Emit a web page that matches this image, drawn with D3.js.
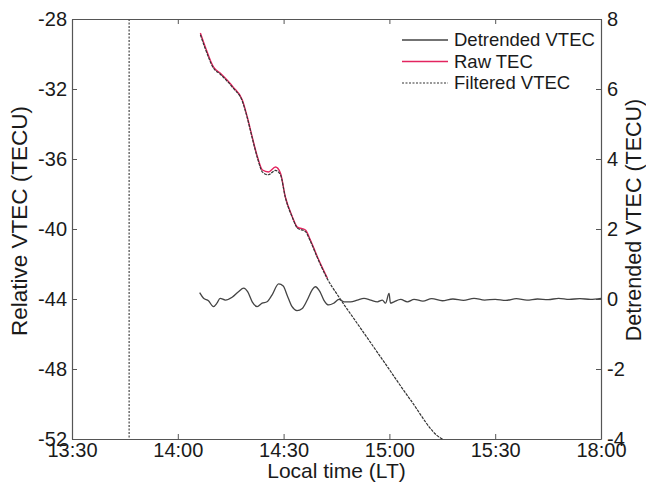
<!DOCTYPE html>
<html>
<head>
<meta charset="utf-8">
<script src="https://cdn.jsdelivr.net/npm/d3@7"></script>
<style>
  body { margin: 0; background: #fff; }
  text { font-family: "Liberation Sans", Arial, sans-serif; fill: #1a1a1a; }
</style>
</head>
<body>
<div id="chart"></div>
<script>
// time is minutes after 13:30
var xTicks = [0, 30, 60, 90, 120, 150];
var xTickLabels = ["13:30", "14:00", "14:30", "15:00", "15:30", "18:00"];
var leftTicks = [-28, -32, -36, -40, -44, -48, -52];
var rightTicks = [8, 6, 4, 2, 0, -2, -4];
var markerTime = 16.2;

// Raw TEC (left axis)
var rawT = [36.4, 37.8, 40.1, 42.0, 45.7, 48.3, 49.7, 51.1, 52.6, 54.0, 55.7, 57.7, 59.1, 60.5, 62.5, 63.9, 66.2, 67.6, 69.6, 72.4];
var rawV = [-28.8, -29.6, -30.74, -31.09, -31.89, -32.63, -33.6, -34.74, -35.89, -36.63, -36.74, -36.46, -36.8, -38.17, -39.31, -39.89, -40.06, -40.63, -41.6, -42.8];

// Filtered VTEC (left axis)
var filtT = [36.4, 37.8, 40.1, 42.0, 45.7, 48.3, 49.7, 51.1, 52.6, 54.0, 55.7, 57.7, 59.1, 60.5, 62.5, 63.9, 66.2, 67.6, 69.6, 72.4, 75.3, 81.8, 89.5, 96.0, 104.5, 105.1];
var filtV = [-28.9, -29.7, -30.8, -31.15, -31.95, -32.7, -33.65, -34.8, -35.95, -36.75, -36.9, -36.65, -36.9, -38.2, -39.35, -39.95, -40.15, -40.7, -41.65, -42.85, -43.77, -45.66, -47.89, -49.77, -51.94, -52.0];

// Detrended VTEC (right axis)
var detT = [36.2, 37.3, 38.7, 40.1, 41.1, 42.0, 43.5, 45.4, 47.2, 48.7, 49.8, 51.1, 52.5, 53.9, 55.3, 56.7, 58.6, 59.9, 61.0, 62.4, 63.8, 65.3, 66.7, 68.1, 69.0, 70.3, 71.4, 72.8, 74.2, 75.7, 77.1, 79.0, 80.9, 82.8, 84.7, 86.6, 88.0, 88.9, 89.9, 90.3, 91.3, 93.2, 95.1, 97.0, 99.5, 102, 105, 108, 111, 114, 117, 120, 123, 126, 129, 132, 135, 138, 141, 144, 147, 150];
var detV = [0.18, 0.02, -0.05, -0.22, -0.12, 0.02, -0.03, 0.05, 0.21, 0.31, 0.21, -0.08, -0.22, -0.12, -0.08, 0.11, 0.43, 0.37, 0.11, -0.22, -0.33, -0.27, -0.03, 0.26, 0.35, 0.21, -0.03, -0.17, -0.12, -0.01, -0.08, -0.08, -0.03, 0.02, -0.03, -0.08, -0.03, -0.12, 0.16, -0.12, -0.08, -0.01, -0.08, -0.01, -0.06, 0.01, -0.05, 0.0, -0.04, 0.02, -0.03, -0.01, -0.04, 0.01, -0.03, 0.0, -0.02, 0.02, -0.01, 0.01, -0.01, 0.02];

var svgWidth = 646;
var svgHeight = 491;
var margin = { top: 19, right: 45, bottom: 52, left: 72 };
var chartWidth = svgWidth - margin.left - margin.right;
var chartHeight = svgHeight - margin.top - margin.bottom;

var svg = d3.select("#chart")
  .append("svg")
  .attr("width", svgWidth)
  .attr("height", svgHeight);

var chartGroup = svg.append("g")
  .attr("transform", `translate(${margin.left}, ${margin.top})`);

var xScale = d3.scaleLinear().domain([0, 150]).range([0, chartWidth]);
var yLeft = d3.scaleLinear().domain([-52, -28]).range([chartHeight, 0]);
var yRight = d3.scaleLinear().domain([-4, 8]).range([chartHeight, 0]);

var axisColor = "#555";

// axes with inward ticks, plain hyphen minus signs
var bottomAxis = d3.axisBottom(xScale).tickValues(xTicks)
  .tickFormat((d, i) => xTickLabels[i]).tickSizeInner(-5).tickSizeOuter(0).tickPadding(4);
var topAxis = d3.axisTop(xScale).tickValues(xTicks)
  .tickFormat("").tickSizeInner(-5).tickSizeOuter(0);
var leftAxis = d3.axisLeft(yLeft).tickValues(leftTicks)
  .tickFormat(d => String(d)).tickSizeInner(-5).tickSizeOuter(0).tickPadding(5);
var rightAxis = d3.axisRight(yRight).tickValues(rightTicks)
  .tickFormat(d => String(d)).tickSizeInner(-5).tickSizeOuter(0).tickPadding(6);

var gx = chartGroup.append("g").attr("transform", `translate(0, ${chartHeight})`).call(bottomAxis);
var gt = chartGroup.append("g").call(topAxis);
var gl = chartGroup.append("g").call(leftAxis);
var gr = chartGroup.append("g").attr("transform", `translate(${chartWidth}, 0)`).call(rightAxis);

[gx, gt, gl, gr].forEach(function(g) {
  g.selectAll("path").attr("stroke", axisColor).attr("stroke-width", 1.2);
  g.selectAll("line").attr("stroke", axisColor);
  g.selectAll("text").attr("font-size", "20px").attr("fill", "#1a1a1a")
    .attr("font-family", "'Liberation Sans', Arial, sans-serif");
});

// vertical dotted marker
chartGroup.append("line")
  .attr("x1", xScale(markerTime)).attr("x2", xScale(markerTime))
  .attr("y1", 0).attr("y2", chartHeight)
  .attr("stroke", "#555").attr("stroke-width", 1.3)
  .attr("stroke-dasharray", "2,1.5");

var lineLeft = d3.line().x(d => xScale(d[0])).y(d => yLeft(d[1])).curve(d3.curveMonotoneX);
var lineRight = d3.line().x(d => xScale(d[0])).y(d => yRight(d[1])).curve(d3.curveMonotoneX);

var rawData = rawT.map((t, i) => [t, rawV[i]]);
var filtData = filtT.map((t, i) => [t, filtV[i]]);
var detData = detT.map((t, i) => [t, detV[i]]);

chartGroup.append("path").datum(rawData)
  .attr("d", lineLeft).attr("fill", "none")
  .attr("stroke", "#e3245f").attr("stroke-width", 1.4);

chartGroup.append("path").datum(filtData)
  .attr("d", lineLeft).attr("fill", "none")
  .attr("stroke", "#333").attr("stroke-width", 1.2)
  .attr("stroke-dasharray", "3,1");

chartGroup.append("path").datum(detData)
  .attr("d", lineRight).attr("fill", "none")
  .attr("stroke", "#444").attr("stroke-width", 1.3);

// legend
var legend = [
  { name: "Detrended VTEC", color: "#444", dash: null },
  { name: "Raw TEC", color: "#e3245f", dash: null },
  { name: "Filtered VTEC", color: "#777", dash: "2,1.5" }
];
var legendGroup = svg.append("g").attr("transform", "translate(402, 40)");
legend.forEach(function(d, i) {
  var row = legendGroup.append("g").attr("transform", `translate(0, ${i * 21.5})`);
  row.append("line").attr("x1", 0).attr("x2", 46).attr("y1", 0).attr("y2", 0)
    .attr("stroke", d.color).attr("stroke-width", 1.4)
    .attr("stroke-dasharray", d.dash);
  row.append("text").attr("x", 52).attr("y", 0).attr("dy", "0.35em")
    .attr("font-size", "18.5px").text(d.name);
});

// axis titles
svg.append("text")
  .attr("x", margin.left + chartWidth / 2).attr("y", 478)
  .attr("text-anchor", "middle").attr("font-size", "21px")
  .text("Local time (LT)");

svg.append("text")
  .attr("transform", "translate(27, 221) rotate(-90)")
  .attr("text-anchor", "middle").attr("font-size", "22.5px")
  .text("Relative VTEC (TECU)");

svg.append("text")
  .attr("transform", "translate(641, 220) rotate(-90)")
  .attr("text-anchor", "middle").attr("font-size", "21.5px")
  .text("Detrended VTEC (TECU)");
</script>
</body>
</html>
